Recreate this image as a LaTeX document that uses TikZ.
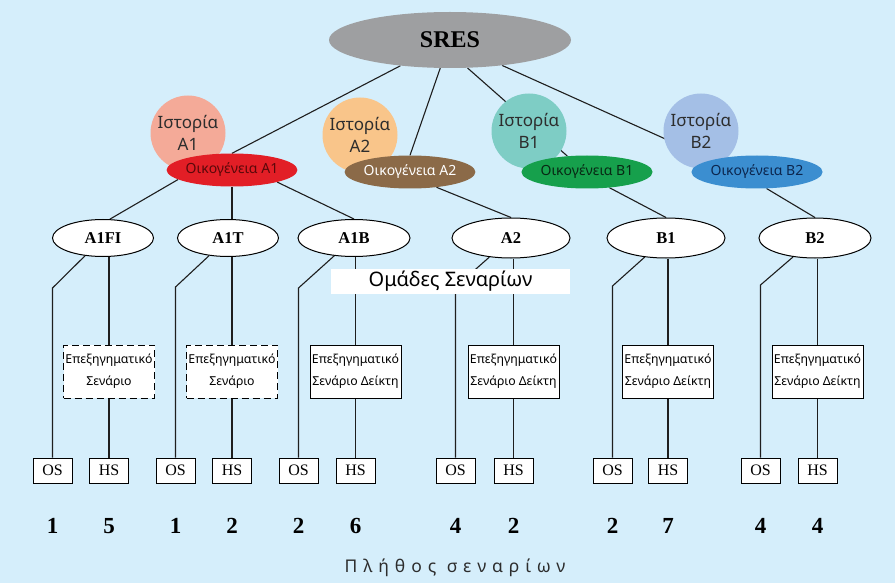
\documentclass[tikz,border=0pt]{standalone}
\usepackage{fontspec}
\setmainfont{Liberation Serif}
\newfontfamily\grf{Noto Sans}
\usetikzlibrary{shapes.geometric,calc}
\pgfdeclarelayer{back}
\pgfdeclarelayer{lines}
\pgfsetlayers{back,lines,main}
\definecolor{bgc}{RGB}{213,238,251}
\definecolor{sresc}{RGB}{158,159,161}
\definecolor{istAa}{RGB}{244,170,152}
\definecolor{istAb}{RGB}{249,197,138}
\definecolor{istBa}{RGB}{126,205,197}
\definecolor{istBb}{RGB}{164,191,230}
\definecolor{famAa}{RGB}{226,30,38}
\definecolor{famAat}{RGB}{90,8,10}
\definecolor{famAb}{RGB}{139,106,72}
\definecolor{famBa}{RGB}{22,160,76}
\definecolor{famBat}{RGB}{8,40,20}
\definecolor{famBb}{RGB}{59,142,208}
\definecolor{famBbt}{RGB}{12,38,78}
\definecolor{istt}{RGB}{45,45,45}
\definecolor{linec}{RGB}{30,30,30}
\begin{document}
\begin{tikzpicture}[x=1pt,y=-1pt,
  conn/.style={draw=linec,line width=1.1pt},
  sresbox/.style={ellipse,fill=sresc,minimum width=242pt,minimum height=56pt,inner sep=0pt,font=\fontsize{24}{26}\selectfont\bfseries},
  ist/.style={circle,minimum size=75pt,inner sep=0pt,align=center,text=istt,font=\grf\fontsize{17}{22}\selectfont},
  fam/.style={ellipse,minimum width=120pt,minimum height=33pt,inner sep=0pt,font=\grf\fontsize{14}{15}\selectfont},
  lvl/.style={ellipse,draw=black,fill=white,line width=1pt,minimum height=37pt,inner sep=0pt,font=\fontsize{16.5}{18}\selectfont\bfseries},
  expl/.style={rectangle,draw=black,fill=white,line width=0.9pt,minimum width=91pt,minimum height=53pt,inner sep=0pt,align=center,font=\grf\fontsize{12.3}{22}\selectfont},
  dsh/.style={dash pattern=on 7pt off 4pt},
  sbox/.style={rectangle,draw=black,fill=white,line width=0.9pt,minimum width=39pt,minimum height=25pt,inner sep=0pt,font=\fontsize{16}{18}\selectfont},
  num/.style={inner sep=0pt,font=\fontsize{23}{25}\selectfont\bfseries},
]
\begin{pgfonlayer}{back}
\fill[bgc] (0,0) rectangle (895,583);
\end{pgfonlayer}

% top
\node[sresbox] (sres) at (450,40) {SRES};
\node[ist,fill=istAa] (iA1) at (188,133) {Ιστορία\\A1};
\node[ist,fill=istAb] (iA2) at (360,135) {Ιστορία\\A2};
\node[ist,fill=istBa] (iB1) at (529,131) {Ιστορία\\B1};
\node[ist,fill=istBb] (iB2) at (701,131) {Ιστορία\\B2};
\node[fam,fill=famAa,text=famAat] (fA1) at (232,170) {Οικογένεια A1};
\node[fam,fill=famAb,text=white] (fA2) at (410,172) {Οικογένεια A2};
\node[fam,fill=famBa,text=famBat] (fB1) at (587,172) {Οικογένεια B1};
\node[fam,fill=famBb,text=famBbt] (fB2) at (757,172) {Οικογένεια B2};

% level 3
\node[lvl,minimum width=101pt] (A1FI) at (103,238) {A1FI};
\node[lvl,minimum width=101pt] (A1T) at (228,238) {A1T};
\node[lvl,minimum width=112pt] (A1B) at (354,238) {A1B};
\node[lvl,minimum width=118pt,minimum height=40pt] (A2) at (511,238) {A2};
\node[lvl,minimum width=118pt,minimum height=40pt] (B1) at (666,238) {B1};
\node[lvl,minimum width=112pt,minimum height=40pt] (B2) at (815,238) {B2};

% explanatory boxes
\node[expl,dsh] (e1) at (109,371.5) {Επεξηγηματικό\\Σενάριο};
\node[expl,dsh] (e2) at (232,371.5) {Επεξηγηματικό\\Σενάριο};
\node[expl] (e3) at (355.5,371.5) {Επεξηγηματικό\\Σενάριο Δείκτη};
\node[expl] (e4) at (513.5,371.5) {Επεξηγηματικό\\Σενάριο Δείκτη};
\node[expl] (e5) at (668,371.5) {Επεξηγηματικό\\Σενάριο Δείκτη};
\node[expl] (e6) at (817.5,371.5) {Επεξηγηματικό\\Σενάριο Δείκτη};

% OS / HS
\node[sbox] (o1) at (52.5,470.5) {OS};
\node[sbox] (h1) at (109,470.5) {HS};
\node[sbox] (o2) at (175.5,470.5) {OS};
\node[sbox] (h2) at (232,470.5) {HS};
\node[sbox] (o3) at (298.5,470.5) {OS};
\node[sbox] (h3) at (355.5,470.5) {HS};
\node[sbox] (o4) at (455.5,470.5) {OS};
\node[sbox] (h4) at (513.5,470.5) {HS};
\node[sbox] (o5) at (612.5,470.5) {OS};
\node[sbox] (h5) at (668,470.5) {HS};
\node[sbox] (o6) at (760.5,470.5) {OS};
\node[sbox] (h6) at (817.5,470.5) {HS};

% numbers
\node[num] (n1) at (52.5,526) {1};
\node[num] (n2) at (109,526) {5};
\node[num] (n3) at (175.5,526) {1};
\node[num] (n4) at (232,526) {2};
\node[num] (n5) at (298.5,526) {2};
\node[num] (n6) at (355.5,526) {6};
\node[num] (n7) at (455.5,526) {4};
\node[num] (n8) at (513.5,526) {2};
\node[num] (n9) at (612.5,526) {2};
\node[num] (n10) at (668,526) {7};
\node[num] (n11) at (760.5,526) {4};
\node[num] (n12) at (817.5,526) {4};

% group label
\node[rectangle,fill=white,minimum width=239pt,minimum height=25pt,inner sep=0pt,font=\grf\fontsize{20}{22}\selectfont] (grp) at (450.5,281.5) {Ομάδες Σεναρίων};
% title
\node[inner sep=0pt,text=istt,font=\grf\fontsize{17.5}{19}\selectfont\addfontfeature{LetterSpace=34}] (ttl) at (455,568) {Πλήθος σεναρίων};

% corners
\coordinate (c1) at (52.5,288);
\coordinate (c2) at (175.5,287);
\coordinate (c3) at (298.5,288);
\coordinate (c4) at (455.5,287);
\coordinate (c5) at (612.5,286);
\coordinate (c6) at (760.5,285);

\begin{pgfonlayer}{lines}
\draw[conn] (sres) -- (fA1.north);
\draw[conn] (sres) -- (fA2.north);
\draw[conn] (sres.-58.5) -- (fB1.141);
\draw[conn] (sres.-26) -- (fB2.165);
\draw[conn] (fA1.190) -- (A1FI.70);
\draw[conn] (fA1.south) -- (fA1.south |- A1T.north);
\draw[conn] (fA1.-15) -- (A1B.north);
\draw[conn] (fA2.-30) -- (A2.north);
\draw[conn] (fB1.-35) -- (B1.north);
\draw[conn] (fB2.-60) -- (B2.north);
\foreach \L/\e/\h/\o/\c in {A1FI/e1/h1/o1/c1,A1T/e2/h2/o2/c2,A1B/e3/h3/o3/c3,A2/e4/h4/o4/c4,B1/e5/h5/o5/c5,B2/e6/h6/o6/c6}{
  \draw[conn] (\L.south -| \e.north) -- (\e.north);
  \draw[conn] (\e.south) -- (\h.north);
  \draw[conn] (\L) -- (\c) -- (\o.north);
}
\end{pgfonlayer}
\end{tikzpicture}
\end{document}
